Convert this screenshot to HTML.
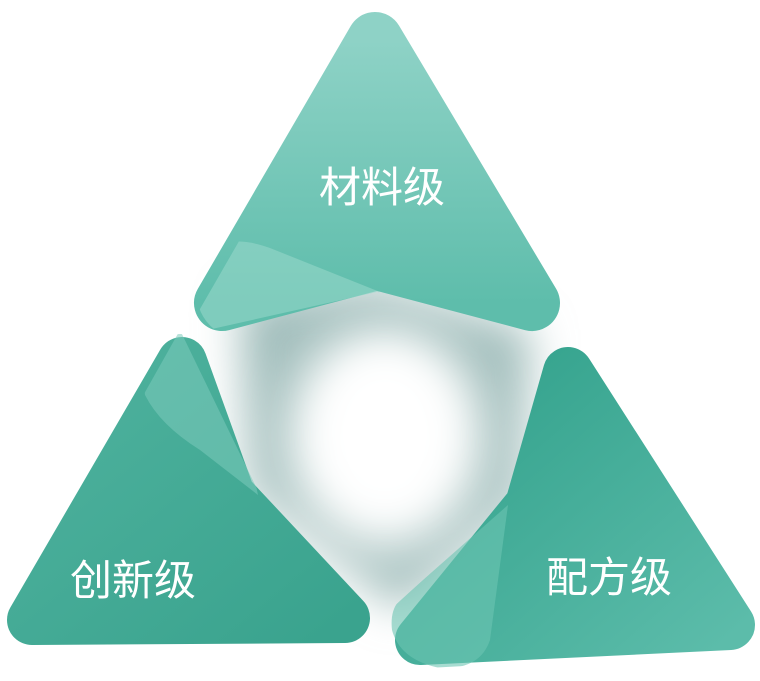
<!DOCTYPE html>
<html><head><meta charset="utf-8"><style>
html,body{margin:0;padding:0;background:#fff;width:760px;height:681px;overflow:hidden}
text{font-family:"Liberation Sans","Noto Sans CJK SC",sans-serif;fill:#fff;font-size:42px}
</style></head><body>
<svg width="760" height="681" viewBox="0 0 760 681">
<defs>
<filter id="b1" x="-50%" y="-50%" width="200%" height="200%"><feGaussianBlur stdDeviation="22"/></filter>
<filter id="b2" x="-50%" y="-50%" width="200%" height="200%"><feGaussianBlur stdDeviation="30"/></filter>
<linearGradient id="gt" x1="0" y1="0" x2="0" y2="1"><stop offset="0" stop-color="#8ed2c6"/><stop offset="1" stop-color="#5ebdab"/></linearGradient>
<linearGradient id="gl" x1="0" y1="0" x2="1" y2="1"><stop offset="0" stop-color="#4fb29e"/><stop offset="1" stop-color="#3aa38e"/></linearGradient>
<linearGradient id="gr" x1="0" y1="0" x2="1" y2="1"><stop offset="0" stop-color="#30a08a"/><stop offset="1" stop-color="#5cbcaa"/></linearGradient>
<clipPath id="ct"><path d="M375,5 L570,330 L377,292 L185,335Z"/></clipPath>
<clipPath id="cl"><path d="M180,330 L260,495 L380,640 L0,650 Z"/></clipPath>
<clipPath id="cr"><path d="M570,340 L505,505 L390,610 L390,670 L760,650Z"/></clipPath>
</defs>
<polygon points="240,300 377,285 530,330 520,500 400,610 250,490" fill="#9fbcba" filter="url(#b1)"/>
<ellipse cx="385" cy="440" rx="95" ry="110" fill="#fff" filter="url(#b2)"/>
<ellipse cx="385" cy="430" rx="70" ry="80" fill="#fff" filter="url(#b1)"/>
<g stroke-linejoin="round">
<polygon points="375,40 532,303 377,262 222,303" fill="url(#gt)" stroke="url(#gt)" stroke-width="56"/>
<polygon points="182,362 230,495 345,618 32,620" fill="url(#gl)" stroke="url(#gl)" stroke-width="50"/>
<polygon points="568,372 530,505 420,640 730,625" fill="url(#gr)" stroke="url(#gr)" stroke-width="50"/>
</g>
<g clip-path="url(#ct)"><path d="M380,292 L270,248 Q215,228 198,270 Q190,310 215,330 Q240,340 270,330 Z" fill="#9ad8cc" opacity="0.55"/></g>
<g clip-path="url(#cl)"><path d="M160,338 Q140,360 145,395 Q160,425 200,450 L258,495 L238,400 Q225,350 200,338 Q180,330 160,338Z" fill="#7ccbbc" opacity="0.55"/></g>
<g clip-path="url(#cr)"><path d="M398,602 L508,505 L490,640 Q480,670 440,668 Q400,660 392,630 Q390,612 398,602Z" fill="#6cc4b3" opacity="0.6"/></g>
<text x="382" y="202" text-anchor="middle">材料级</text>
<text x="133" y="595" text-anchor="middle">创新级</text>
<text x="609" y="592" text-anchor="middle">配方级</text>
</svg>
</body></html>
